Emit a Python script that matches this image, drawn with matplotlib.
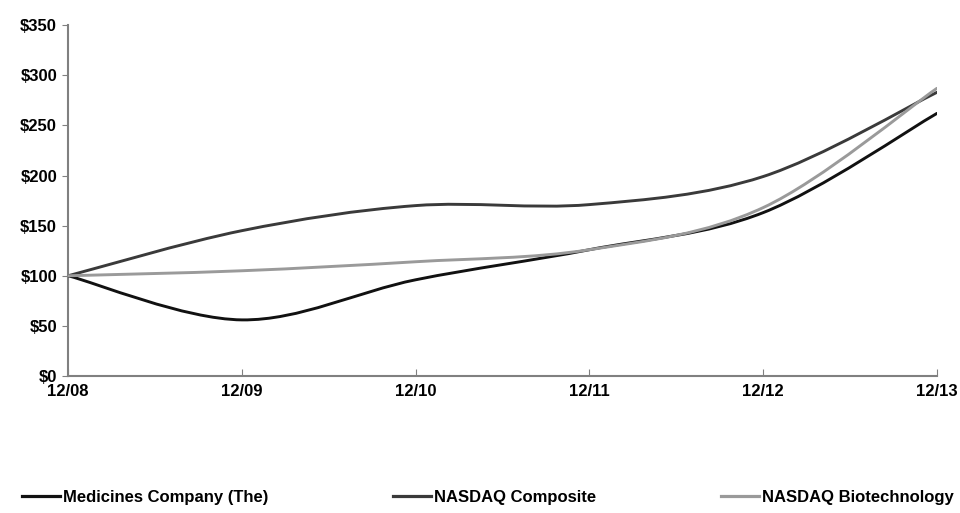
import numpy as np
import matplotlib
matplotlib.use("Agg")
import matplotlib.pyplot as plt
from matplotlib.path import Path
from matplotlib.patches import PathPatch
from matplotlib.lines import Line2D

plt.rcParams['font.family'] = ['Liberation Sans Narrow', 'Liberation Sans', 'DejaVu Sans']
plt.rcParams['font.weight'] = 'bold'

years = ['12/08', '12/09', '12/10', '12/11', '12/12', '12/13']
medicines = [100, 56, 96, 126, 163, 262]
composite = [100, 145, 170, 171, 199, 283]
biotech = [100, 105, 114, 126, 168, 287]

names = ['Medicines Company (The)', 'NASDAQ Composite', 'NASDAQ Biotechnology']
colors = ['#111111', '#3a3a3a', '#9a9a9a']


def smooth_path(xs, ys):
    # catmull-rom as cubic bezier segments, like excel smoothed lines
    xs = np.asarray(xs, float)
    ys = np.asarray(ys, float)
    pts = np.column_stack([xs, ys])
    verts = [pts[0]]
    codes = [Path.MOVETO]
    n = len(pts)
    for i in range(n - 1):
        p0 = pts[i - 1] if i > 0 else pts[i]
        p1 = pts[i]
        p2 = pts[i + 1]
        p3 = pts[i + 2] if i + 2 < n else pts[i + 1]
        c1 = p1 + (p2 - p0) / 6.0
        c2 = p2 - (p3 - p1) / 6.0
        verts += [c1, c2, p2]
        codes += [Path.CURVE4] * 3
    return Path(verts, codes)


fig = plt.figure(figsize=(9.6, 5.13), dpi=100)
ax = fig.add_axes([0.071, 0.267, 0.905, 0.684])

x = np.arange(len(years))
handles = []
for vals, name, c in zip([medicines, composite, biotech], names, colors):
    patch = PathPatch(smooth_path(x, vals), facecolor='none', edgecolor=c, lw=2.1,
                      capstyle='round', zorder=3)
    ax.add_patch(patch)
    handles.append(Line2D([], [], color=c, lw=2.3))

ax.set_xlim(0, len(years) - 1)
ax.set_ylim(0, 350)
ax.set_xticks(x)
ax.set_xticklabels(years)
ax.set_yticks(np.arange(0, 351, 50))
ax.set_yticklabels(['$%d' % v for v in range(0, 351, 50)])

for s in ['top', 'right']:
    ax.spines[s].set_visible(False)
for s in ['left', 'bottom']:
    ax.spines[s].set_color('#808080')
    ax.spines[s].set_linewidth(1.5)
ax.tick_params(axis='x', direction='in', length=5, color='#808080', labelsize=12, pad=6)
ax.tick_params(axis='y', direction='out', length=4, color='#808080', labelsize=12, pad=4)
for lab in ax.get_xticklabels() + ax.get_yticklabels():
    lab.set_fontweight('bold')

fig.legend(handles, names, loc='center', bbox_to_anchor=(0.508, 0.03), ncol=3,
           frameon=False, handlelength=2.3, handletextpad=0.15,
           columnspacing=7.5, borderaxespad=0, borderpad=0,
           prop={'weight': 'bold', 'size': 12})

fig.savefig('out.png', dpi=100)
